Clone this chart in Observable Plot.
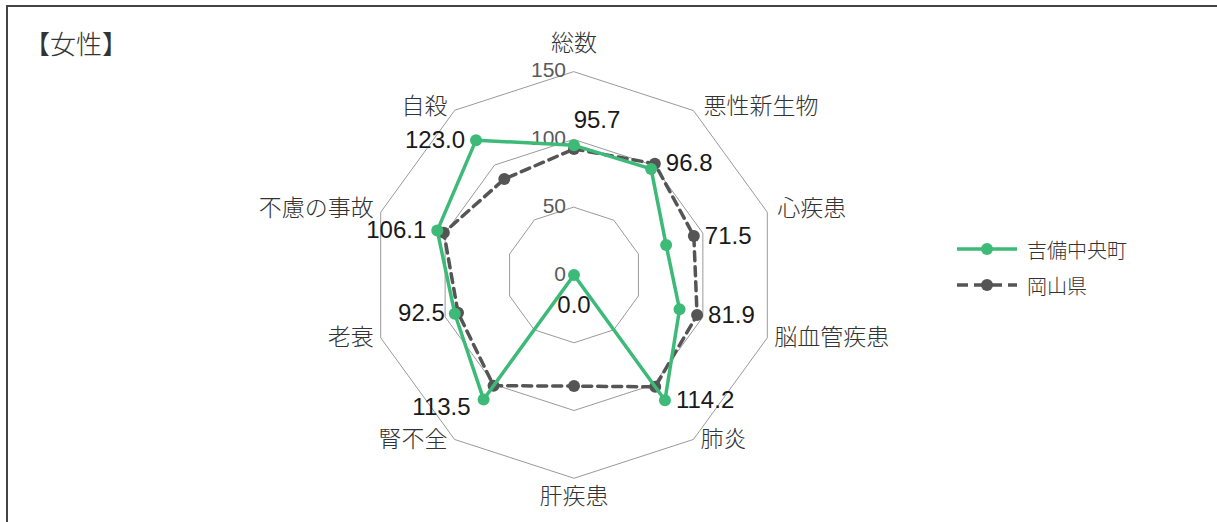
<!DOCTYPE html>
<html><head><meta charset="utf-8">
<script src="https://cdn.jsdelivr.net/npm/d3@7"></script>
<script src="https://cdn.jsdelivr.net/npm/@observablehq/plot@0.6"></script>
<style>
html,body{margin:0;padding:0;background:#fff;}
body{font-family:"Noto Sans CJK JP","Noto Sans",sans-serif;}
#wrap{position:relative;width:1217px;height:522px;overflow:hidden;}
#frame{position:absolute;left:6px;top:5px;width:1300px;height:700px;border-left:2px solid #444;border-top:2px solid #444;}
#chart{position:absolute;left:0;top:0;}
#title{position:absolute;left:24px;top:30px;font-size:26px;font-weight:300;color:#333;line-height:1;}
#legend{position:absolute;left:956px;top:231px;font-size:20px;font-weight:300;color:#333;}
#legend .row{display:flex;align-items:center;height:36px;}
#legend svg{margin-right:9px;}
</style>
</head><body>
<div id="wrap">
  <div id="frame"></div>
  <div id="chart"></div>
  <div id="title">【女性】</div>
  <div id="legend"></div>
</div>
<script>
// ---- data ----
const categories = ["総数","悪性新生物","心疾患","脳血管疾患","肺炎","肝疾患","腎不全","老衰","不慮の事故","自殺"];
const town = [95.7, 96.8, 71.5, 81.9, 114.2, 0.0, 113.5, 92.5, 106.1, 123.0];
const pref = [93.0, 101.5, 93.0, 95.5, 102.0, 82.0, 101.0, 90.0, 101.0, 87.5];
const ringTicks = [0, 50, 100, 150];
const seriesNames = ["吉備中央町", "岡山県"];

// ---- layout / style ----
const W = 1217, H = 522, cx = 573.5, cy = 274.5, k = 1.355;
const green = "#3dba78", gray = "#555555";
const n = categories.length;
const ang = i => 2 * Math.PI * i / n;
const px = (r, i) => r * Math.sin(ang(i));
const py = (r, i) => r * Math.cos(ang(i));
const rMax = d3.max(ringTicks);

const rings = ringTicks.filter(t => t > 0).flatMap(t => categories.map((c, i) => ({t, x: px(t, i), y: py(t, i)})));
const pts = s => categories.map((c, i) => ({c, i, v: s[i], x: px(s[i], i), y: py(s[i], i)}));
const townPts = pts(town), prefPts = pts(pref);

const side = i => { const s = Math.sin(ang(i)), c = Math.cos(ang(i));
  if (Math.abs(s) < 1e-6) return c > 0 ? "top" : "bottom";
  return (s > 0 ? "right" : "left") + (c > 0 ? "Up" : "Down"); };

const catLabels = categories.map((c, i) => ({c, i, side: side(i), x: px(rMax, i), y: py(rMax, i)}));
const valLabels = categories.map((c, i) => {
  const s = side(i);
  const r = (s === "top" || s === "bottom") ? town[i] : Math.max(town[i], pref[i]);
  return {i, side: s, text: town[i].toFixed(1), x: px(r, i), y: py(r, i)};
});

const catFont = {fontSize: 23, fill: "#333", fontWeight: 300, fontFamily: "'Noto Sans CJK JP', sans-serif"};
const valFont = {fontSize: 24, fill: "#1a1a1a", fontFamily: "'Liberation Sans', Arial, sans-serif"};

const catMark = (sd, opts) => Plot.text(catLabels, {filter: d => d.side === sd, x: "x", y: "y", text: "c", lineAnchor: "middle", ...catFont, ...opts});
const valMark = (filter, opts) => Plot.text(valLabels, {filter, x: "x", y: "y", text: "text", lineAnchor: "middle", ...valFont, ...opts});

const chart = Plot.plot({
  width: W, height: H,
  marginTop: 0, marginBottom: 0, marginLeft: 0, marginRight: 0,
  style: {background: "transparent", overflow: "visible"},
  x: {domain: [-cx / k, (W - cx) / k], range: [0, W], axis: null},
  y: {domain: [-(H - cy) / k, cy / k], range: [H, 0], axis: null},
  marks: [
    Plot.line(rings, {x: "x", y: "y", z: "t", curve: "linear-closed", stroke: "#9a9a9a", strokeWidth: 1}),
    Plot.text(ringTicks, {x: () => 0, y: d => d, text: d => String(d), textAnchor: "end", lineAnchor: "middle", dx: -8, dy: -1,
      fontSize: 21, fill: "#5a5a5a", fontWeight: 300, fontFamily: "'Liberation Sans', Arial, sans-serif"}),
    catMark("top", {textAnchor: "middle", dy: -28}),
    catMark("bottom", {textAnchor: "middle", dy: 18}),
    catMark("rightUp", {textAnchor: "start", dx: 10, dy: -4}),
    catMark("rightDown", {textAnchor: "start", dx: 7, dy: 0}),
    catMark("leftUp", {textAnchor: "end", dx: -7, dy: -4}),
    catMark("leftDown", {textAnchor: "end", dx: -7, dy: 0}),
    Plot.line(prefPts, {x: "x", y: "y", curve: "linear-closed", stroke: gray, strokeWidth: 3.5, strokeDasharray: "9,6"}),
    Plot.dot(prefPts, {x: "x", y: "y", r: 6, fill: gray}),
    Plot.line(townPts, {x: "x", y: "y", curve: "linear-closed", stroke: green, strokeWidth: 3.5}),
    Plot.dot(townPts, {x: "x", y: "y", r: 6, fill: green}),
    valMark(d => d.side === "top", {textAnchor: "middle", dx: 23, dy: -25}),
    valMark(d => d.side === "bottom", {textAnchor: "middle", dy: 30}),
    valMark(d => d.side.startsWith("right"), {textAnchor: "start", dx: 11}),
    valMark(d => d.side === "leftUp", {textAnchor: "end", dx: -11}),
    valMark(d => d.side === "leftDown" && d.i !== n - 4, {textAnchor: "end", dx: -10}),
    valMark(d => d.side === "leftDown" && d.i === n - 4, {textAnchor: "end", dx: -13, dy: 8})
  ]
});
document.getElementById("chart").appendChild(chart);

// legend
const legend = document.getElementById("legend");
const styles = [{stroke: green, dash: null}, {stroke: gray, dash: "11,6"}];
seriesNames.forEach((name, j) => {
  const row = document.createElement("div"); row.className = "row";
  const st = styles[j];
  row.innerHTML = `<svg width="62" height="14"><line x1="1" x2="61" y1="7" y2="7" stroke="${st.stroke}" stroke-width="3.5" ${st.dash ? `stroke-dasharray="${st.dash}"` : ""}/><circle cx="31" cy="7" r="6" fill="${st.stroke}"/></svg><span>${name}</span>`;
  legend.appendChild(row);
});
</script>
</body></html>
